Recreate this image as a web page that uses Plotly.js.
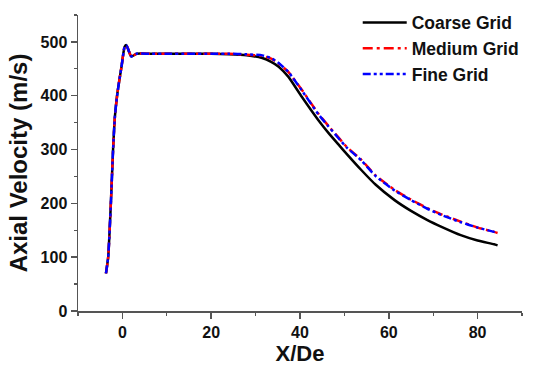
<!DOCTYPE html>
<html>
<head>
<meta charset="utf-8">
<script src="https://cdn.plot.ly/plotly-3.0.1.min.js"></script>
<style>
  html, body { margin: 0; padding: 0; background: #fff; }
  #grafico { width: 550px; height: 371px; }
</style>
</head>
<body>
<div id="grafico"></div>
<script>
// X/De positions
const xCoarse = [-3.7, -3.2, -2.6, -2.1, -1.7, -1.2, -0.8, -0.2, 0.5, 0.9, 2.0, 3.2, 6, 10, 15, 20, 24, 28,
  31.5, 33.5, 35.2, 37.4, 40.4, 44.1, 46.4, 48.6, 50.5, 53.8, 57, 61.3, 65, 68.7, 72, 76.2, 80, 83.7, 84.5];
const coarse = [70, 100, 200, 300, 360, 400, 423, 454, 491, 494, 473, 478, 478, 478, 478, 478, 477, 475,
  470, 463, 454, 435, 398, 355, 331, 310, 292, 262, 235, 206, 186, 169, 156, 141, 131, 124, 122];

const xFine = xCoarse;
const medium = [70, 100, 200, 300, 360, 400, 423, 454, 491, 494, 473, 478, 478, 478, 478, 478, 478, 476,
  474, 469, 460, 444, 411, 367, 344, 323, 305, 281, 252, 225, 207, 191, 179, 166, 155, 147, 145];
const fine = [70, 100, 200, 300, 360, 400, 423, 454, 491, 494, 473, 478, 478, 478, 478, 478, 478, 477,
  475, 470, 461, 444, 410, 366, 343, 322, 304, 280, 251, 224, 206, 190, 178, 165, 155, 147, 145];

const names = ['Coarse Grid', 'Medium Grid', 'Fine Grid'];

const fonte = 'Arial, "Liberation Sans", sans-serif';

const traces = [
  { x: xCoarse, y: coarse, name: names[0], mode: 'lines',
    line: { color: '#000000', width: 2.5, shape: 'spline', smoothing: 0.5 } },
  { x: xFine, y: medium, name: names[1], mode: 'lines',
    line: { color: '#ff0000', width: 2.5, dash: '10px,4px,3px,4px', shape: 'spline', smoothing: 0.5 } },
  { x: xFine, y: fine, name: names[2], mode: 'lines',
    line: { color: '#0000ff', width: 2.5, dash: '8px,3px,3px,3px,3px,3px', shape: 'spline', smoothing: 0.5 } }
];

const eixo = {
  showgrid: false, zeroline: false, showline: true, linecolor: '#555', linewidth: 1.5,
  ticks: 'outside', ticklen: 6, tickwidth: 1.5, tickcolor: '#555',
  tickfont: { family: fonte, size: 16, color: '#111', weight: 'bold' },
  minor: { ticks: 'outside', ticklen: 3, tickwidth: 1.2, tickcolor: '#555', showgrid: false }
};

const layout = {
  width: 550, height: 371,
  margin: { l: 78, r: 28, t: 15, b: 60, autoexpand: false },
  paper_bgcolor: 'white', plot_bgcolor: 'white',
  xaxis: Object.assign({}, eixo, {
    range: [-10, 90], tick0: 0, dtick: 20,
    minor: Object.assign({}, eixo.minor, { dtick: 10 }),
    title: { text: 'X/De', standoff: 6, font: { family: fonte, size: 22, color: '#111', weight: 'bold' } }
  }),
  yaxis: Object.assign({}, eixo, {
    range: [0, 550], tick0: 0, dtick: 100,
    minor: Object.assign({}, eixo.minor, { dtick: 50 }),
    title: { text: 'Axial Velocity (m/s)', standoff: 6, font: { family: fonte, size: 24, color: '#111', weight: 'bold' } }
  }),
  showlegend: true,
  legend: {
    x: 0.63, y: 1.035, xanchor: 'left', yanchor: 'top',
    bgcolor: 'rgba(0,0,0,0)',
    font: { family: fonte, size: 17.5, color: '#111', weight: 'bold' },
    itemwidth: 44, tracegroupgap: 0
  }
};

Plotly.newPlot('grafico', traces, layout, { displayModeBar: false, staticPlot: true });
</script>
</body>
</html>
